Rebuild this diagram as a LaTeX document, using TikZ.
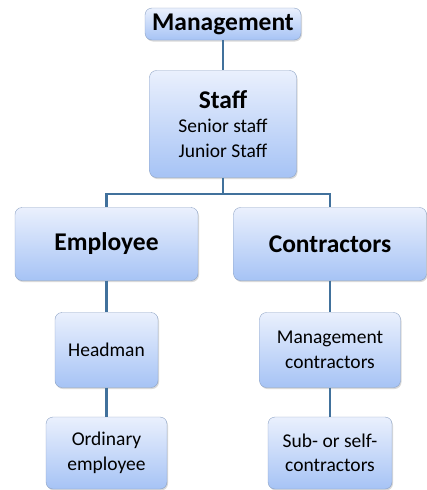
\documentclass[tikz,border=0pt]{standalone}
\usepackage{fontspec}
\setmainfont{Carlito}
\usetikzlibrary{positioning,shadows}
\definecolor{linkblue}{RGB}{65,113,156}
\definecolor{boxedge}{RGB}{140,162,196}
\definecolor{boxtop}{RGB}{234,240,253}
\definecolor{boxbottom}{RGB}{166,195,245}

\begin{document}
\begin{tikzpicture}[x=1pt,y=1pt,on grid,
	box/.style={draw=boxedge,rounded corners=7pt,top color=boxtop,bottom color=boxbottom,
		align=center,inner sep=2pt,font=\fontsize{19.5}{24.5}\selectfont,
		drop shadow={opacity=0.3,shadow xshift=1pt,shadow yshift=-1.5pt}},
	head/.style={box,font=\bfseries\fontsize{25.5}{30}\selectfont},
	link/.style={draw=linkblue,line width=2.2pt}]
	\useasboundingbox (0,0) rectangle (427,-490);
	\node[head,minimum width=156pt,minimum height=32pt] (mgmt) at (223,-24) {Management};
	\node[box,minimum width=147pt,minimum height=107pt] (staff) [below=100pt of mgmt]
		{{\bfseries\fontsize{25.5}{26}\selectfont Staff}\\Senior staff\\Junior Staff};
	\node[head,minimum width=183pt,minimum height=73pt] (emp) [below left=120pt and 116.5pt of staff] {Employee};
	\node[head,minimum width=193pt,minimum height=73pt] (contr) [below right=120pt and 107pt of staff] {Contractors};
	\node[box,minimum width=103pt,minimum height=75pt] (headman) [below=106pt of emp] {Headman};
	\node[box,minimum width=121pt,minimum height=72pt] (ordin) [below=103pt of headman] {Ordinary\\employee};
	\node[box,minimum width=141pt,minimum height=75pt] (mcontr) [below=106pt of contr] {Management\\contractors};
	\node[box,minimum width=124pt,minimum height=72pt] (subcontr) [below=103pt of mcontr] {Sub- or self-\\contractors};
	\path[link]
	(mgmt) edge (staff)
	(staff.south) edge[-] ++(0,-16)
	(emp) edge (headman)
	(headman) edge (ordin)
	(contr) edge (mcontr)
	(mcontr) edge (subcontr);
	\draw[link] (staff.south) ++(0,-16) -| (emp);
	\draw[link] (staff.south) ++(0,-16) -| (contr);
\end{tikzpicture}
\end{document}
